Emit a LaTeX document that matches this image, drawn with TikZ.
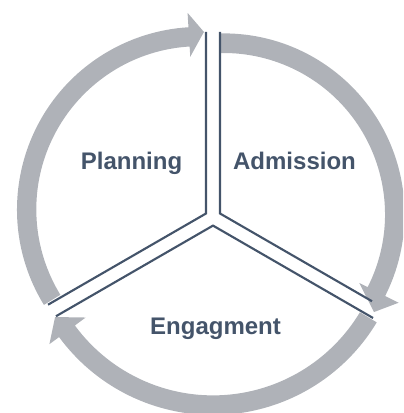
\documentclass[tikz,border=0pt]{standalone}
\usepackage{fontspec}
\setmainfont{Liberation Sans}
\definecolor{bandgray}{RGB}{175,178,184}
\definecolor{slate}{RGB}{68,84,106}
\begin{document}
\begin{tikzpicture}[x=0.75pt,y=0.75pt,
  band/.style={fill=bandgray,draw=none},
  divline/.style={draw=slate,line width=1.6pt,line join=miter,line cap=butt},
  lbl/.style={anchor=base,text=slate,font=\fontsize{18}{20}\selectfont\bfseries,inner sep=0pt}]
\useasboundingbox (0,0) rectangle (403,413);
\clip (0,0) rectangle (403,413);
% arrow A (Planning side)
\fill[band] ([shift={(199.6,203.5)}]211.5:182.6) arc[start angle=211.5,end angle=93.5,radius=182.6]
  -- ([shift={(199.6,203.5)}]93.5:197) -- ([shift={(199.6,203.5)}]88.6:177.6)
  -- ([shift={(199.6,203.5)}]93.5:153) -- ([shift={(199.6,203.5)}]93.5:163.3)
  arc[start angle=93.5,end angle=211.5,radius=163.3] -- cycle;
% arrow B (Admission side)
\fill[band] ([shift={(223.6,198.6)}]90.9:181) arc[start angle=90.9,end angle=-26.8,radius=181]
  -- ([shift={(223.6,198.6)}]-26.8:196) -- ([shift={(223.6,198.6)}]-33:179.3)
  -- ([shift={(223.6,198.6)}]-26.8:152) -- ([shift={(223.6,198.6)}]-26.8:161.4)
  arc[start angle=-26.8,end angle=90.9,radius=161.4] -- cycle;
% arrow C (Engagment side)
\fill[band] ([shift={(213,189)}]-31:191) arc[start angle=-31,end angle=-143.7,radius=191]
  -- ([shift={(213,189)}]-143.7:203) -- ([shift={(213,189)}]-149.5:183.3)
  -- ([shift={(213,189)}]-143.7:158) -- ([shift={(213,189)}]-143.7:171.4)
  arc[start angle=-143.7,end angle=-31,radius=171.4] -- cycle;
% divider lines
\coordinate (L) at (206,199.5);
\coordinate (R) at (220,199.5);
\coordinate (B) at (213,187.4);
\coordinate (Ltop) at (206,381);
\coordinate (Rtop) at (220,381);
\path (L) ++(210:182.4) coordinate (Lend);
\path (B) ++(210:181.3) coordinate (Bleft);
\path (R) ++(-30:175.5) coordinate (Rend);
\path (B) ++(-30:184.8) coordinate (Bright);
\draw[divline] (Ltop) -- (L) -- (Lend);
\draw[divline] (Rtop) -- (R) -- (Rend);
\draw[divline] (Bleft) -- (B) -- (Bright);
% labels
\node[lbl] (plan) at (131.5,243) {Planning};
\node[lbl] (adm) at (294.5,243) {Admission};
\node[lbl] (eng) at (215.5,78) {Engagment};
\end{tikzpicture}
\end{document}
